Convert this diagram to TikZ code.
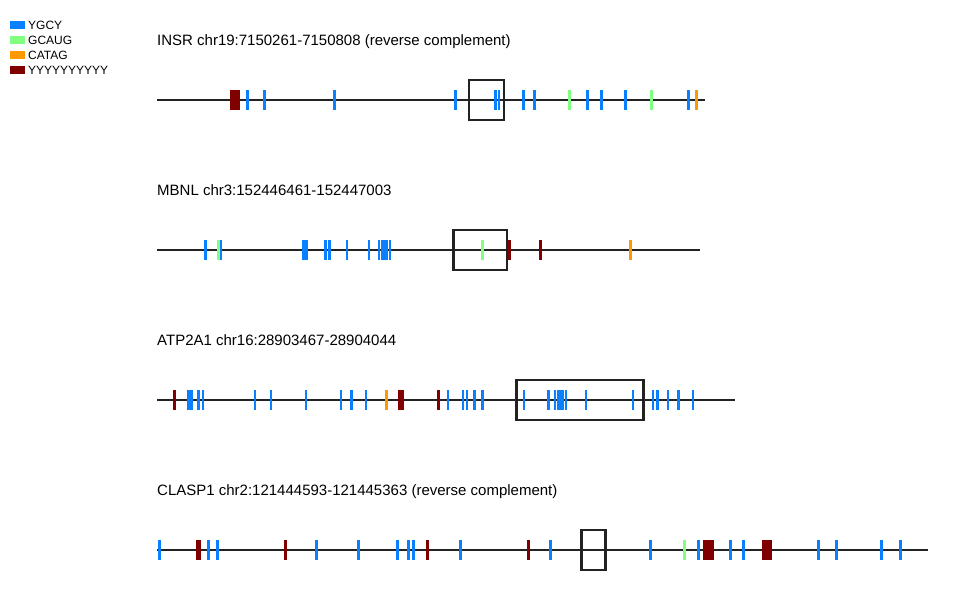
\documentclass[tikz,border=0pt]{standalone}
\usepackage{fontspec}
\setmainfont{Liberation Sans}
\definecolor{cblue}{HTML}{0A80FF}
\definecolor{cgreen}{HTML}{80FF80}
\definecolor{corange}{HTML}{FF9900}
\definecolor{cmaroon}{HTML}{800000}
\definecolor{cline}{HTML}{222222}
\begin{document}
\begin{tikzpicture}[x=1pt,y=-1pt,
  trackline/.style={draw=cline,line width=2.8pt},
  framebox/.style={draw=cline,line width=2.4pt},
  title/.style={anchor=base west,inner sep=0pt,font=\fontsize{15}{17}\selectfont},
  legtext/.style={anchor=base west,inner sep=0pt,font=\fontsize{12}{14}\selectfont}]
\useasboundingbox (0,0) rectangle (958,600);
% legend
\fill[cblue] (10,21) rectangle (25,29);
\fill[cgreen] (10,36) rectangle (25,44);
\fill[corange] (10,51) rectangle (25,59);
\fill[cmaroon] (10,66) rectangle (25,74);
\node[legtext] (l1) at (28,29.5) {YGCY};
\node[legtext] (l2) at (28,44.5) {GCAUG};
\node[legtext] (l3) at (28,59.5) {CATAG};
\node[legtext] (l4) at (28,74.5) {YYYYYYYYYY};
% ---------- INSR ----------
\node[title] (t1) at (157,45.5) {INSR chr19:7150261-7150808 (reverse complement)};
\draw[trackline] (157,100) -- (705,100);
\fill[cmaroon] (229.5,90) rectangle (239.5,110);
\foreach \x in {247,264,334,455,523,534,587,601,625,688}
  \fill[cblue] (\x-1.5,90) rectangle (\x+1.5,110);
\foreach \x in {495.5,499}
  \fill[cblue] (\x-1.2,90) rectangle (\x+1.2,110);
\foreach \x in {569,651}
  \fill[cgreen] (\x-1.5,90) rectangle (\x+1.5,110);
\fill[corange] (696-1.5,90) rectangle (696+1.5,110);
\draw[framebox] (469,80) rectangle (504,120);
% ---------- MBNL ----------
\node[title] (t2) at (157,195.5) {MBNL chr3:152446461-152447003};
\draw[trackline] (157,250) -- (699.5,250);
\foreach \x in {205.7,221,325.5,329.5,347,369}
  \fill[cblue] (\x-1.4,240) rectangle (\x+1.4,260);
\foreach \x in {303.5,306.5,379,381.7,384.3,387,389.7}
  \fill[cblue] (\x-1.2,240) rectangle (\x+1.2,260);
\foreach \x in {218,482.7}
  \fill[cgreen] (\x-1.5,240) rectangle (\x+1.5,260);
\foreach \x in {509,540.3}
  \fill[cmaroon] (\x-1.5,240) rectangle (\x+1.5,260);
\fill[corange] (630-1.5,240) rectangle (630+1.5,260);
\draw[framebox] (453.5,230) rectangle (507,270);
% ---------- ATP2A1 ----------
\node[title] (t3) at (157,345.5) {ATP2A1 chr16:28903467-28904044};
\draw[trackline] (157,400) -- (735,400);
\foreach \x in {255,271,306,341,351.7,366,448,474.3,482.7,524,548.7,586,633,668,678.7,693}
  \fill[cblue] (\x-1.4,390) rectangle (\x+1.4,410);
\foreach \x in {188.3,191.3,198.3,202.7,462.7,466.7,555,557.7,560.3,563,565.7,652.7,657.3}
  \fill[cblue] (\x-1.2,390) rectangle (\x+1.2,410);
\foreach \x in {174.7,438.7}
  \fill[cmaroon] (\x-1.5,390) rectangle (\x+1.5,410);
\fill[cmaroon] (398,390) rectangle (403.5,410);
\fill[corange] (386-1.5,390) rectangle (386+1.5,410);
\draw[framebox] (516.5,380) rectangle (643.5,420);
% ---------- CLASP1 ----------
\node[title] (t4) at (157,495.5) {CLASP1 chr2:121444593-121445363 (reverse complement)};
\draw[trackline] (157,550) -- (928,550);
\foreach \x in {159.7,208,217.7,316,358,397,460.7,550,650,698.7,730,743.7,818,836.7,881,900}
  \fill[cblue] (\x-1.5,540) rectangle (\x+1.5,560);
\foreach \x in {408.7,413.7}
  \fill[cblue] (\x-1.3,540) rectangle (\x+1.3,560);
\foreach \x in {285,427.7,528.3}
  \fill[cmaroon] (\x-1.5,540) rectangle (\x+1.5,560);
\fill[cmaroon] (195.7,540) rectangle (200.5,560);
\fill[cmaroon] (703.3,540) rectangle (714.3,560);
\fill[cmaroon] (761.7,540) rectangle (771.5,560);
\fill[cgreen] (684-1.5,540) rectangle (684+1.5,560);
\draw[framebox] (581.5,530) rectangle (605.3,570);
\end{tikzpicture}
\end{document}
